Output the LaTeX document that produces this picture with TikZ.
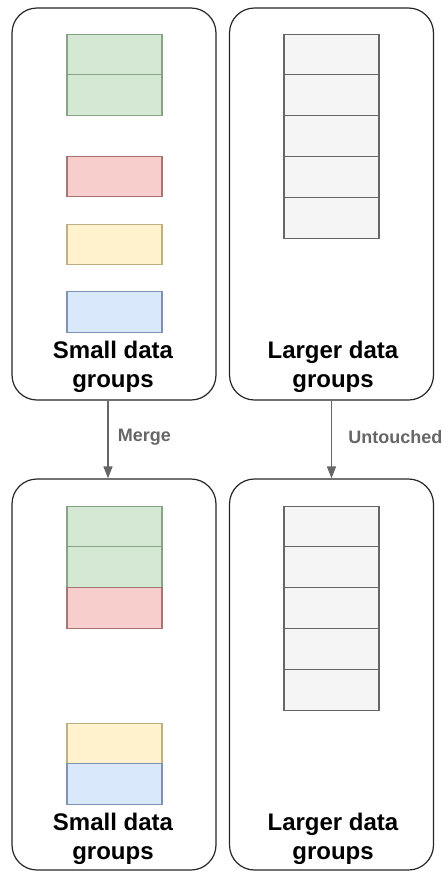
\documentclass[tikz,border=0pt]{standalone}
\usepackage{fontspec}
\setmainfont{Liberation Sans}
\usetikzlibrary{positioning}
\usetikzlibrary{arrows.meta}
\definecolor{greenfill}{HTML}{D5E8D4}
\definecolor{greenline}{HTML}{85A482}
\definecolor{redfill}{HTML}{F8CECC}
\definecolor{redline}{HTML}{A87472}
\definecolor{yellowfill}{HTML}{FFF2CC}
\definecolor{yellowline}{HTML}{BFAF82}
\definecolor{bluefill}{HTML}{DAE8FC}
\definecolor{blueline}{HTML}{8093B3}
\definecolor{grayfill}{HTML}{F5F5F5}
\definecolor{grayline}{HTML}{666666}
\tikzset{
    groupbox/.style = {rectangle, rounded corners=25pt, draw=black!85, line width=1.2pt, minimum width=204pt, minimum height=392pt},
    cell/.style = {rectangle, line width=1.1pt, outer sep=0pt, minimum width=95pt, minimum height=40.8pt},
    cellg/.style = {cell, draw=greenline, fill=greenfill},
    cellr/.style = {cell, draw=redline, fill=redfill},
    celly/.style = {cell, draw=yellowline, fill=yellowfill},
    cellb/.style = {cell, draw=blueline, fill=bluefill},
    cellgr/.style = {cell, draw=grayline, fill=grayfill},
    title/.style = {align=center, font=\fontsize{24}{29}\selectfont\bfseries},
    edgen/.style = {-{Triangle[length=12pt,width=9pt]}, line width=1.3pt, draw=grayline},
    edgelabel/.style = {font=\fontsize{18}{20}\selectfont\bfseries, text=grayline, anchor=west}
}

\begin{document}
\begin{tikzpicture}[x=1pt, y=-1pt]
  \useasboundingbox (0,0) rectangle (446,871);

  % containers
  \node[groupbox] (smalltop) at (114,204) {};
  \node[groupbox] (largetop) at (331.5,204) {};
  \node[groupbox, minimum height=391pt] (smallbot) at (114,674.5) {};
  \node[groupbox, minimum height=391pt] (largebot) at (331.5,674.5) {};

  % small groups, before merging
  \node[cellg] (g1) at (114.5,54.5) {};
  \node[cellg, below=0pt of g1] (g2) {};
  \node[cellr] (r1) at (114.5,176.5) {};
  \node[celly] (y1) at (114.5,244.5) {};
  \node[cellb] (b1) at (114.5,312) {};

  % small groups, after merging
  \node[cellg] (mg1) at (114.5,526.5) {};
  \node[cellg, below=0pt of mg1] (mg2) {};
  \node[cellr, below=0pt of mg2] (mr1) {};
  \node[celly] (my1) at (114.5,743.5) {};
  \node[cellb, below=0pt of my1] (mb1) {};

  % larger groups, top and bottom
  \node[cellgr] (lt1) at (331.5,54.5) {};
  \node[cellgr] (lb1) at (331.5,526.5) {};
  \foreach \i [count=\j from 2] in {1,...,4} {
    \node[cellgr, below=0pt of lt\i] (lt\j) {};
    \node[cellgr, below=0pt of lb\i] (lb\j) {};
  }

  % titles
  \node[title] (smalltoptxt) at (113,367) {Small data\\groups};
  \node[title] (largetoptxt) at (333,367) {Larger data\\groups};
  \node[title] (smallbottxt) at (113,839) {Small data\\groups};
  \node[title] (largebottxt) at (333,839) {Larger data\\groups};

  % arrows
  \draw[edgen] ([xshift=-6pt]smalltop.south) -- ([xshift=-6pt]smallbot.north)
    node[edgelabel, midway, xshift=6pt, yshift=2pt] {Merge};
  \draw[edgen] (largetop.south) -- (largebot.north)
    node[edgelabel, midway, xshift=13pt, yshift=2pt] {Untouched};
\end{tikzpicture}
\end{document}
